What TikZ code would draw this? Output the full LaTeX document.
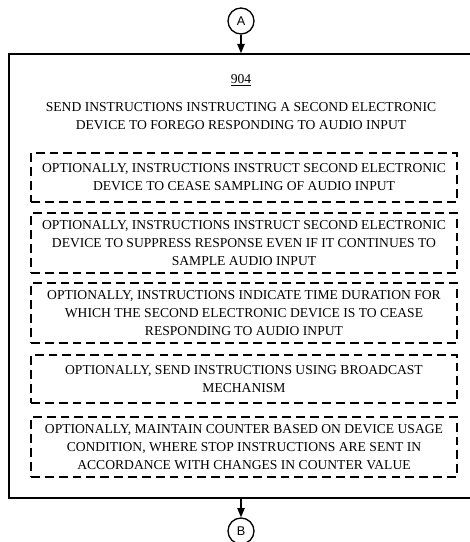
\documentclass[tikz,border=0pt]{standalone}
\usepackage{fontspec}
\setmainfont{Liberation Serif}
\newfontfamily\connfont{Liberation Sans}
\usetikzlibrary{arrows.meta}
\tikzset{
  outerbox/.style={draw, line width=1.1pt, minimum width=348pt, minimum height=333pt, inner sep=0pt},
  optbox/.style={draw, line width=0.95pt, dash pattern=on 6.6pt off 3.8pt, minimum width=319.5pt, inner sep=0pt, align=center, font=\fontsize{10.2}{13.5}\selectfont},
  conn/.style={circle, draw, line width=1pt, minimum size=19.5pt, inner sep=0pt, font=\connfont\fontsize{9.5}{11}\selectfont},
  flow/.style={line width=1pt, -{Triangle[length=7pt, width=5.5pt]}},
  plain/.style={align=center, inner sep=0pt, font=\fontsize{10.2}{13.5}\selectfont}
}
\begin{document}
\begin{tikzpicture}[x=0.75pt, y=-0.75pt]
\useasboundingbox (0,0) rectangle (470,542);
\node[conn] (A) at (241,21) {A};
\node[outerbox] (outer) at (241,276) {};
\node[conn] (B) at (241,531) {B};
\node[plain] (num) at (241,80) {\underline{904}};
\node[plain] (main) at (241,116) {SEND INSTRUCTIONS INSTRUCTING A SECOND ELECTRONIC\\DEVICE TO FOREGO RESPONDING TO AUDIO INPUT};
\node[optbox, minimum height=36.75pt] (o1) at (244,177.5) {OPTIONALLY, INSTRUCTIONS INSTRUCT SECOND ELECTRONIC\\DEVICE TO CEASE SAMPLING OF AUDIO INPUT};
\node[optbox, minimum height=45pt] (o2) at (244,243) {OPTIONALLY, INSTRUCTIONS INSTRUCT SECOND ELECTRONIC\\DEVICE TO SUPPRESS RESPONSE EVEN IF IT CONTINUES TO\\SAMPLE AUDIO INPUT};
\node[optbox, minimum height=45pt] (o3) at (244,313) {OPTIONALLY, INSTRUCTIONS INDICATE TIME DURATION FOR\\WHICH THE SECOND ELECTRONIC DEVICE IS TO CEASE\\RESPONDING TO AUDIO INPUT};
\node[optbox, minimum height=36pt] (o4) at (244,379) {OPTIONALLY, SEND INSTRUCTIONS USING BROADCAST\\MECHANISM};
\node[optbox, minimum height=45pt] (o5) at (244,447) {OPTIONALLY, MAINTAIN COUNTER BASED ON DEVICE USAGE\\CONDITION, WHERE STOP INSTRUCTIONS ARE SENT IN\\ACCORDANCE WITH CHANGES IN COUNTER VALUE};
\draw[flow] (A) -- (outer.north);
\draw[flow] (outer.south) -- (B);
\end{tikzpicture}
\end{document}
